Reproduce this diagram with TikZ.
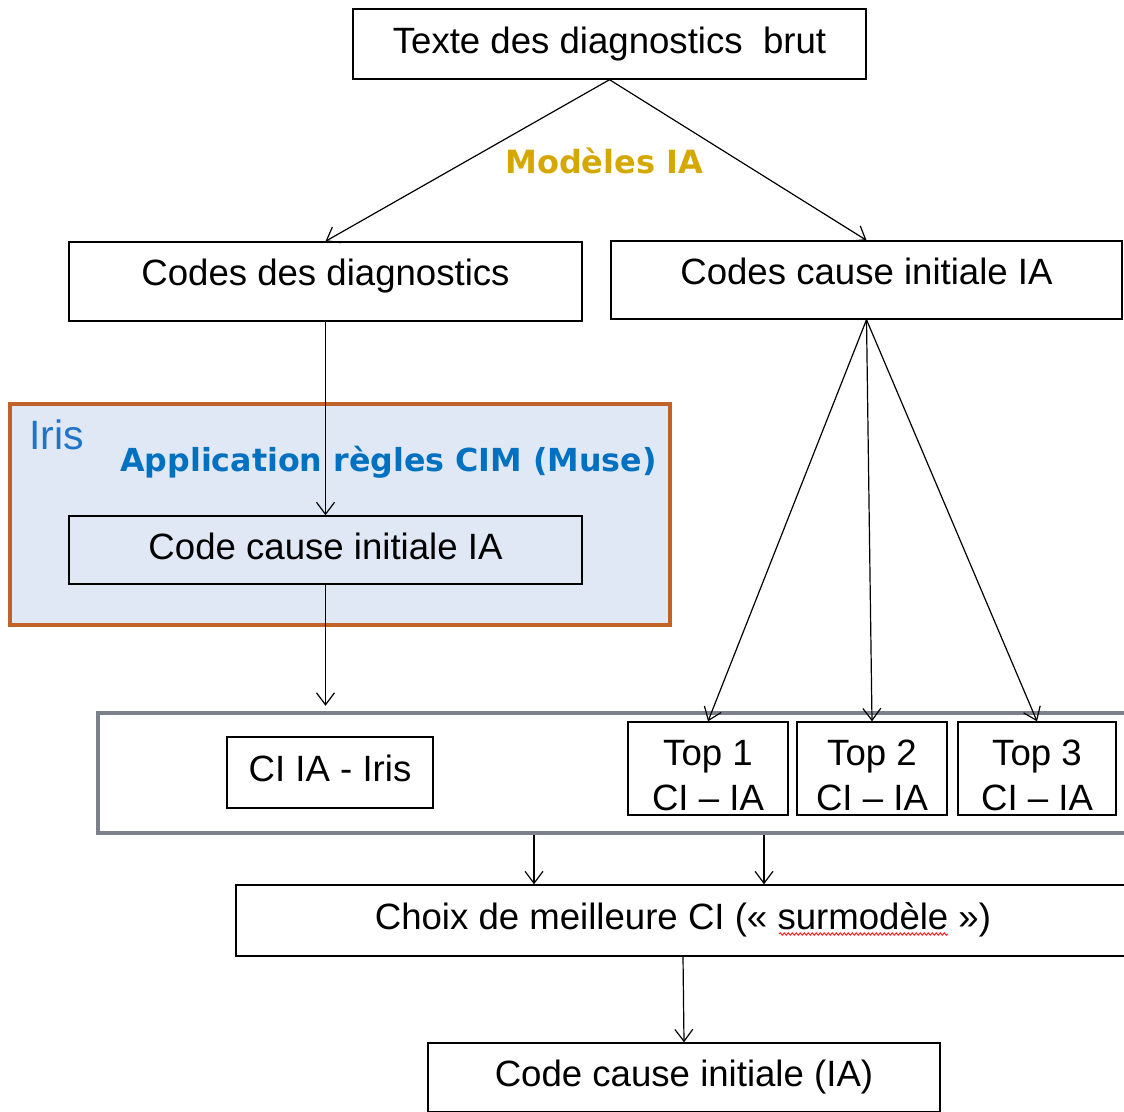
\documentclass[tikz,border=0pt]{standalone}
\usepackage{fontspec}
\setmainfont{Liberation Sans}
\newfontfamily\verd{DejaVu Sans}
\usetikzlibrary{arrows.meta,decorations.pathmorphing}
\definecolor{irisfill}{RGB}{224,232,245}
\definecolor{irisorange}{RGB}{193,98,40}
\definecolor{irisblue}{RGB}{30,116,200}
\definecolor{appblue}{RGB}{0,112,192}
\definecolor{gold}{RGB}{212,168,0}
\definecolor{boxgray}{RGB}{124,128,138}
\begin{document}
\begin{tikzpicture}[x=1pt,y=-1pt,
  box/.style={draw=black, line width=1.4pt, inner sep=0pt, font=\fontsize{36.6}{45}\selectfont},
  onel/.style={box, text height=26pt, text depth=8pt},
  onelhi/.style={box, text height=26pt, text depth=18pt},
  twol/.style={box, align=center, text height=86pt, text depth=3pt, minimum height=93pt},
  arr/.style={-{Straight Barb[length=12pt,width=18pt]}, line width=1.2pt}]
\useasboundingbox (0,0) rectangle (1124,1111);
\clip (0,0) rectangle (1124,1111);

% Iris frame
\node[draw=irisorange, fill=irisfill, line width=4pt, inner sep=0pt,
      minimum width=660pt, minimum height=221pt] (iris) at (340,514.5) {};
\node[text=irisblue, font=\fontsize{41}{48}\selectfont, anchor=base west, inner sep=0pt]
      (iristxt) at (29,449) {Iris};
\node[text=appblue, font=\verd\bfseries\fontsize{31.7}{37}\selectfont, anchor=base west, inner sep=0pt]
      (app) at (120,471) {Application règles CIM (Muse)};

% gray frame
\node[draw=boxgray, fill=white, line width=4.5pt, inner sep=0pt,
      minimum width=1036pt, minimum height=120pt] (gray) at (616,773) {};

% boxes
\node[onel, minimum width=513pt, minimum height=70pt] (top) at (609.5,44) {Texte des diagnostics\ \ brut};
\node[onelhi, minimum width=513pt, minimum height=79pt] (cdd) at (325.5,281.5) {Codes des diagnostics};
\node[onelhi, minimum width=511pt, minimum height=78pt] (cci) at (866.5,280) {Codes cause initiale IA};
\node[onel, minimum width=513pt, minimum height=68pt] (cci2) at (325.5,550) {Code cause initiale IA};
\node[onel, minimum width=206pt, minimum height=71pt] (ciiris) at (330,772.5) {CI IA - Iris};
\node[twol, minimum width=160pt] (top1) at (708,768.5) {Top 1\\CI – IA};
\node[twol, minimum width=150pt] (top2) at (872,768.5) {Top 2\\CI – IA};
\node[twol, minimum width=158pt] (top3) at (1037,768.5) {Top 3\\CI – IA};
\node[onel, minimum width=894pt, minimum height=71pt] (choix) at (683,920.5) {Choix de meilleure CI («~surmodèle~»)};
\node[onel, minimum width=512pt, minimum height=69pt] (final) at (684,1077.5) {Code cause initiale (IA)};

\node[text=gold, font=\verd\bfseries\fontsize{32}{37}\selectfont, anchor=base west, inner sep=0pt]
      (modeles) at (505,173) {Modèles IA};

% spell-check underline
\draw[red!85, line width=1pt, decorate, decoration={snake, amplitude=1.2pt, segment length=4pt}]
      (779,934) -- (948,934);

% connectors
\draw[arr] (top.south) -- (cdd.north);
\draw[arr] (top.south) -- (cci.north);
\draw[arr] (cdd.south) -- (cci2.north);
\draw[arr, shorten >=5pt] (cci2.south) -- (cci2.south |- gray.north);
\draw[arr] (cci.south) -- (top1.north);
\draw[arr] (cci.south) -- (top2.north);
\draw[arr] (cci.south) -- (top3.north);
\coordinate (c1) at (534,0);
\coordinate (c2) at (764,0);
\draw[arr] (gray.south -| c1) -- (choix.north -| c1);
\draw[arr] (gray.south -| c2) -- (choix.north -| c2);
\draw[arr] (choix.south) -- (final.north);
\end{tikzpicture}
\end{document}
